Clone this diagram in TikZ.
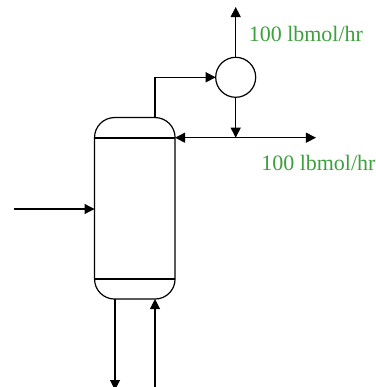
\documentclass[tikz,border=0pt]{standalone}
\usepackage{fontspec}
\setmainfont{Liberation Serif}
\usetikzlibrary{arrows.meta}
\definecolor{flowgreen}{RGB}{60,160,60}
\tikzset{
	stream/.style={-{Triangle[length=7.5pt,width=7.5pt]}, line width=0.8pt},
	tray/.style={line width=1.2pt},
	column/.style={draw, line width=0.9pt, rounded corners=15pt, minimum width=60.4pt, minimum height=136.1pt, inner sep=0pt, outer sep=0pt},
	condenser/.style={draw, circle, line width=0.9pt, minimum size=30pt, inner sep=0pt, outer sep=0pt},
	flowlabel/.style={color=flowgreen, font=\fontsize{16.5}{18}\selectfont, inner sep=0pt},
}
\begin{document}
\begin{tikzpicture}[x=0.75pt, y=0.75pt]
	\path[use as bounding box] (0,0) rectangle (376,387);
	\node[column] (tower) at (134.8,178.7) {};
	\node[condenser] (cond) at (235.7,309.7) {};
	% trays
	\coordinate (trayT) at (0,249.3);
	\coordinate (trayB) at (0,108);
	\draw[tray] (tower.west |- trayT) -- (tower.east |- trayT);
	\draw[tray] (tower.west |- trayB) -- (tower.east |- trayB);
	% streams
	\coordinate (feed) at (14,178);
	\coordinate (vapor) at (235.7,380);
	\coordinate (split) at (235.7,249.3);
	\coordinate (prod) at (316,249.3);
	\coordinate (bot) at (115,-3);
	\coordinate (reb) at (155,0);
	\draw[stream] (feed) -- (tower.west |- feed);
	\draw[stream, line width=1.2pt] (tower.north -| reb) |- (cond.west);
	\draw[stream] (cond.north) -- (vapor);
	\draw[stream] (cond.south) -- (split);
	\draw[stream, {Triangle[length=7.5pt,width=7.5pt]}-{Triangle[length=7.5pt,width=7.5pt]}] (tower.east |- prod) -- (prod);
	\draw[stream] (tower.south -| bot) -- (bot);
	\draw[stream] (reb) -- (tower.south -| reb);
	% flows
	\node[flowlabel, anchor=west] (lblV) at (248.5,353) {100 lbmol/hr};
	\node[flowlabel, anchor=west] (lblP) at (261,224) {100 lbmol/hr};
\end{tikzpicture}
\end{document}
